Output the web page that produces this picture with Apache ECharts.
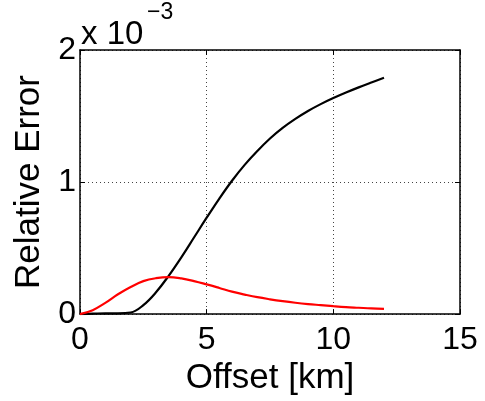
<!DOCTYPE html>
<html>
<head>
<meta charset="utf-8">
<script src="https://cdn.jsdelivr.net/npm/echarts@6/dist/echarts.min.js"></script>
<style>
  html, body { margin: 0; padding: 0; background: #fff; }
  #chart { width: 485px; height: 401px; }
</style>
</head>
<body>
<div id="chart"></div>
<script>
// offsets in km
const offsets = [0, 0.5, 1, 1.5, 2, 2.5, 3, 3.5, 4, 4.5, 5, 5.5, 6, 6.5, 7, 7.5, 8, 8.5, 9, 9.5, 10, 10.5, 11, 11.5, 12];
// relative error, in units of 1e-3
const blackErr = [0, 0.003, 0.006, 0.006, 0.012, 0.068, 0.165, 0.29, 0.43, 0.58, 0.73, 0.875, 1.01, 1.13, 1.235, 1.33, 1.41, 1.478, 1.538, 1.59, 1.636, 1.678, 1.717, 1.754, 1.79];
const redErr = [0, 0.03, 0.085, 0.15, 0.205, 0.25, 0.272, 0.28, 0.27, 0.25, 0.225, 0.198, 0.17, 0.148, 0.128, 0.112, 0.098, 0.086, 0.076, 0.068, 0.06, 0.053, 0.048, 0.043, 0.04];
const xTicks = [0, 5, 10, 15];
const yTicks = [0, 1, 2];

const chart = echarts.init(document.getElementById('chart'));
const font = 'Liberation Sans, Arial, Helvetica, sans-serif';

const pairs = ys => offsets.map((x, i) => [x, ys[i]]);

const frameAxis = {
  axisLine: { show: true, onZero: false, lineStyle: { color: '#000', width: 1.5 } },
  axisTick: { show: true, inside: true, length: 5, lineStyle: { color: '#000', width: 1 } }
};

chart.setOption({
  animation: false,
  backgroundColor: '#fff',
  grid: { left: 80, right: 25, top: 50, bottom: 79 },
  graphic: [
    { type: 'text', left: 81, top: 18, style: { text: 'x 10', font: '33px ' + font, fill: '#000' } },
    { type: 'text', left: 147, top: 1, style: { text: '\u22123', font: '23px ' + font, fill: '#000' } }
  ],
  xAxis: [
    Object.assign({
      type: 'value', position: 'bottom', min: xTicks[0], max: xTicks[xTicks.length - 1], interval: 5,
      name: 'Offset [km]', nameLocation: 'middle', nameGap: 37,
      nameTextStyle: { fontSize: 35, color: '#000', fontFamily: font },
      axisLabel: { fontSize: 32, color: '#000', fontFamily: font, margin: 10 },
      splitLine: { show: true, lineStyle: { color: '#444', type: [1, 3], width: 1 } }
    }, frameAxis),
    Object.assign({
      type: 'value', position: 'top', min: xTicks[0], max: xTicks[xTicks.length - 1], interval: 5,
      axisLabel: { show: false }, splitLine: { show: false }
    }, frameAxis)
  ],
  yAxis: [
    Object.assign({
      type: 'value', position: 'left', min: yTicks[0], max: yTicks[yTicks.length - 1], interval: 1,
      name: 'Relative Error', nameLocation: 'middle', nameGap: 32,
      nameTextStyle: { fontSize: 35, color: '#000', fontFamily: font },
      axisLabel: { fontSize: 32, color: '#000', fontFamily: font, margin: 4 },
      splitLine: { show: true, lineStyle: { color: '#444', type: [1, 3], width: 1 } }
    }, frameAxis),
    Object.assign({
      type: 'value', position: 'right', min: yTicks[0], max: yTicks[yTicks.length - 1], interval: 1,
      axisLabel: { show: false }, splitLine: { show: false }
    }, frameAxis)
  ],
  series: [
    {
      type: 'line', data: pairs(blackErr), xAxisIndex: 0, yAxisIndex: 0,
      smooth: 0.4, showSymbol: false, lineStyle: { color: '#000', width: 2.2 }
    },
    {
      type: 'line', data: pairs(redErr), xAxisIndex: 0, yAxisIndex: 0,
      smooth: 0.4, showSymbol: false, lineStyle: { color: '#ff0000', width: 2.2 }
    }
  ]
});
</script>
</body>
</html>
